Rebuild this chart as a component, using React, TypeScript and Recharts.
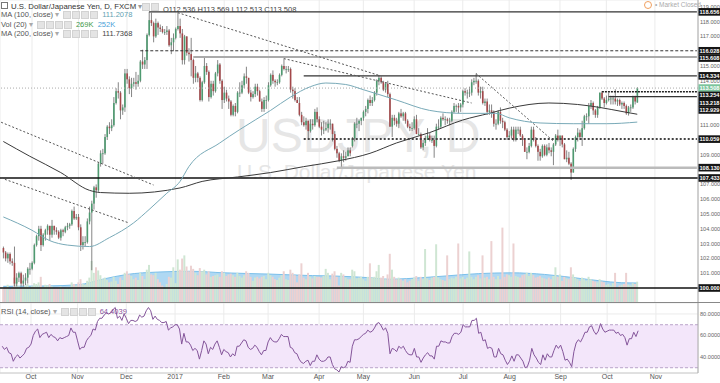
import React from "react"
import { ComposedChart, Bar, Line, Area, XAxis, YAxis, CartesianGrid, ReferenceLine, ReferenceArea, Cell } from "recharts"

// daily candles [open, high, low, close], one small list per month
const sep16 = [[102.7,102.8,102.0,102.4],[102.4,102.5,101.8,102.0],[102.0,102.4,101.7,102.3],[102.3,102.4,101.6,101.8],[101.8,102.0,101.5,101.7],[101.7,102.8,100.1,100.3],[100.3,101.0,100.1,100.7],[100.7,101.1,100.4,101.0],[101.0,101.1,100.1,100.3],[100.3,100.9,100.1,100.5],[100.5,101.0,100.2,100.7],[100.7,101.4,100.3,101.3],[101.3,101.7,100.9,101.3]]
const oct16 = [[101.3,101.8,101.2,101.7],[101.7,103.0,101.6,102.9],[102.9,103.6,102.8,103.5],[103.5,104.2,103.2,104.0],[104.0,104.2,102.5,102.9],[102.9,103.7,102.8,103.6],[103.6,104.0,103.2,103.9],[103.9,104.3,103.6,104.2],[104.2,104.2,103.2,103.6],[103.6,104.6,103.4,104.2],[104.2,104.2,103.6,103.9],[103.9,104.1,103.6,103.8],[103.8,103.9,103.3,103.4],[103.4,104.0,103.2,103.9],[103.9,104.0,103.5,103.8],[103.8,104.2,103.7,104.1],[104.1,104.4,103.9,104.2],[104.2,104.4,104.0,104.3],[104.3,105.3,104.2,105.2],[105.2,105.5,104.6,104.7],[104.7,105.0,104.6,104.8]]
const nov16 = [[104.8,105.0,103.9,104.1],[104.1,104.3,102.5,102.9],[102.9,103.5,102.6,103.1],[103.1,103.5,102.8,103.1],[103.1,104.7,103.0,104.5],[104.5,105.5,104.3,105.1],[105.1,105.9,101.2,105.7],[105.7,106.9,105.3,106.8],[106.8,107.0,106.1,106.6],[106.6,108.5,106.5,108.4],[108.4,109.3,108.2,109.1],[109.1,109.4,108.4,109.1],[109.1,110.4,109.0,110.2],[110.2,111.0,110.0,110.9],[110.9,111.2,110.4,110.8],[110.8,111.4,110.6,111.0],[111.0,112.9,110.9,112.5],[112.5,113.5,112.4,113.3],[113.3,113.9,112.8,113.2],[113.2,113.3,111.4,112.0],[112.0,112.4,111.7,112.2],[112.2,114.8,111.9,114.5]]
const dec16 = [[114.5,114.8,113.8,114.1],[114.1,114.3,113.1,113.5],[113.5,114.2,112.9,113.8],[113.8,114.2,113.6,113.9],[113.9,114.6,113.4,113.8],[113.8,114.4,113.6,114.0],[114.0,115.4,113.9,115.3],[115.3,116.1,114.8,115.1],[115.1,115.6,114.8,115.4],[115.4,117.2,114.8,117.1],[117.1,118.66,117.0,118.1],[118.1,118.6,117.7,117.9],[117.9,118.0,116.6,117.0],[117.0,118.2,116.9,117.9],[117.9,118.0,117.1,117.6],[117.6,117.8,117.3,117.5],[117.5,117.7,117.2,117.3],[117.3,117.5,117.1,117.3],[117.3,117.7,117.1,117.4],[117.4,117.5,116.3,116.4],[116.4,116.9,115.8,116.6],[116.6,117.2,116.0,116.9]]
const jan17 = [[116.9,117.6,116.8,117.5],[117.5,118.6,117.4,117.7],[117.7,118.2,116.9,117.2],[117.2,117.5,115.1,115.4],[115.4,117.1,115.1,117.0],[117.0,117.0,115.7,115.9],[115.9,116.2,115.3,115.8],[115.8,116.9,114.3,115.4],[115.4,115.5,113.8,114.2],[114.2,115.0,113.9,114.5],[114.5,114.6,113.9,114.2],[114.2,114.3,112.6,112.7],[112.7,114.0,112.6,113.9],[113.9,115.6,113.8,115.0],[115.0,115.2,114.4,114.6],[114.6,114.7,112.6,112.9],[112.9,114.0,112.8,113.8],[113.8,114.0,113.0,113.3],[113.3,114.6,113.2,114.5],[114.5,115.4,114.3,115.1],[115.1,115.2,113.8,114.0],[114.0,114.1,112.1,112.7]]
const feb17 = [[112.7,113.6,112.5,113.2],[113.2,113.4,112.6,112.8],[112.8,113.0,112.1,112.6],[112.6,112.7,111.6,111.7],[111.7,112.4,111.6,112.3],[112.3,112.5,111.6,111.9],[111.9,113.3,111.8,113.2],[113.2,113.9,112.9,113.2],[113.2,114.0,113.1,113.7],[113.7,114.5,113.5,114.3],[114.3,114.95,113.8,114.2],[114.2,114.2,113.1,113.2],[113.2,113.4,112.6,112.9],[112.9,113.3,112.8,113.1],[113.1,113.8,112.9,113.6],[113.6,113.8,113.0,113.3],[113.3,113.4,112.6,112.6],[112.6,112.8,111.9,112.1],[112.1,112.9,111.9,112.7],[112.7,113.0,112.1,112.7]]
const mar17 = [[112.7,113.9,112.6,113.7],[113.7,114.5,113.6,114.4],[114.4,114.7,113.8,114.0],[114.0,114.1,113.6,113.9],[113.9,114.1,113.7,113.9],[113.9,114.5,113.8,114.4],[114.4,115.1,114.3,115.0],[115.0,115.5,114.7,114.8],[114.8,115.0,114.5,114.8],[114.8,115.0,114.6,114.8],[114.8,114.9,113.2,113.4],[113.4,113.6,112.8,113.3],[113.3,113.5,112.6,112.7],[112.7,112.9,112.5,112.5],[112.5,112.9,111.6,111.7],[111.7,111.9,111.0,111.2],[111.2,111.6,110.9,111.0],[111.0,111.5,110.7,111.3],[111.3,111.3,110.1,110.6],[110.6,111.4,110.5,111.1],[111.1,111.4,110.7,111.0],[111.0,112.1,110.9,111.9],[111.9,112.2,111.2,111.4]]
const apr17 = [[111.4,111.6,110.8,110.9],[110.9,111.2,110.3,110.7],[110.7,111.3,110.4,110.7],[110.7,111.2,110.6,110.8],[110.8,111.4,110.5,111.1],[111.1,111.4,110.7,111.1],[111.1,111.1,109.9,110.4],[110.4,110.6,109.3,109.4],[109.4,109.6,108.8,109.1],[109.1,109.2,108.5,108.6],[108.6,109.1,108.13,108.9],[108.9,109.3,108.5,108.8],[108.8,109.2,108.6,108.9],[108.9,109.5,108.9,109.3],[109.3,109.5,108.9,109.1],[109.6,110.2,109.5,110.1],[110.1,111.2,109.9,111.1],[111.1,111.5,110.8,111.1],[111.1,111.4,110.6,111.3],[111.3,111.5,111.0,111.5]]
const may17 = [[111.5,112.0,111.3,111.9],[111.9,112.3,111.6,112.1],[112.1,112.8,111.8,112.7],[112.7,113.0,112.3,112.5],[112.5,112.9,112.3,112.7],[112.7,113.3,112.6,113.2],[113.2,114.1,113.0,114.0],[114.0,114.37,113.7,114.2],[114.2,114.3,113.8,113.9],[113.9,114.0,113.3,113.4],[113.4,113.9,113.2,113.8],[113.8,114.0,112.9,113.1],[113.1,113.2,110.9,110.9],[110.9,111.7,110.2,111.5],[111.5,111.7,111.0,111.3],[111.3,111.5,110.9,111.1],[111.1,111.9,110.8,111.8],[111.8,112.1,111.5,111.6],[111.6,111.9,111.3,111.8],[111.8,111.9,111.1,111.3],[111.3,111.4,110.8,110.9],[110.9,111.1,110.6,110.8],[110.8,111.2,110.6,110.8]]
const jun17 = [[110.8,111.6,110.7,111.4],[111.4,111.7,110.4,110.4],[110.4,110.8,110.3,110.4],[110.4,110.5,109.4,109.5],[109.5,110.0,109.3,109.8],[109.8,110.3,109.6,110.0],[110.0,110.8,110.0,110.3],[110.3,110.5,109.9,110.0],[110.0,110.3,109.8,110.0],[110.0,110.3,108.8,109.6],[109.6,111.1,109.5,110.9],[110.9,111.4,110.7,110.9],[110.9,111.6,110.8,111.5],[111.5,111.8,111.3,111.4],[111.4,111.6,111.0,111.4],[111.4,111.5,111.1,111.3],[111.3,111.5,111.0,111.3],[111.3,112.0,111.2,111.9],[111.9,112.5,111.8,112.3],[112.3,112.4,111.9,112.3],[112.3,112.5,111.8,112.2],[112.2,112.5,111.9,112.4]]
const jul17 = [[112.4,113.4,112.2,113.3],[113.3,113.5,113.0,113.2],[113.2,113.4,112.8,113.2],[113.2,113.6,112.9,113.2],[113.2,114.1,113.0,113.9],[113.9,114.2,113.7,114.0],[114.0,114.49,113.8,114.0],[114.0,114.1,113.0,113.2],[113.2,113.6,112.8,113.3],[113.3,113.6,112.4,112.5],[112.5,112.8,112.3,112.6],[112.6,112.8,111.7,111.9],[111.9,112.4,111.7,112.0],[112.0,112.4,111.5,111.9],[111.9,112.0,110.9,111.1],[111.1,111.4,110.7,111.1],[111.1,112.0,111.0,111.9],[111.9,112.2,111.1,111.3],[111.3,111.5,110.8,111.2],[111.2,111.3,110.6,110.7],[110.7,110.8,110.0,110.2]]
const aug17 = [[110.2,110.6,110.0,110.3],[110.3,110.9,110.1,110.7],[110.7,110.9,109.9,110.0],[110.0,110.9,109.9,110.7],[110.7,110.9,110.4,110.7],[110.7,110.9,110.2,110.3],[110.3,110.4,109.6,110.0],[110.0,110.1,109.2,109.2],[109.2,109.5,108.7,109.2],[109.2,109.8,109.1,109.6],[109.6,110.9,109.5,110.7],[110.7,110.9,109.9,110.0],[110.0,110.2,109.5,109.6],[109.6,109.7,108.6,109.2],[109.2,109.4,108.6,108.9],[108.9,109.7,108.8,109.6],[109.6,109.7,108.9,109.0],[109.0,109.7,108.9,109.5],[109.5,109.8,109.1,109.3],[109.3,109.5,108.9,109.2],[109.2,109.8,108.3,109.7],[109.7,110.4,109.6,110.3],[110.3,110.7,109.9,110.0]]
const sep17 = [[110.0,110.3,109.6,110.3],[110.3,110.3,109.5,109.7],[109.7,109.8,108.7,108.7],[108.7,109.3,108.5,108.8],[108.8,109.2,108.3,108.4],[108.4,108.5,107.3,107.8],[107.8,109.5,107.8,109.4],[109.4,110.3,109.2,110.2],[110.2,110.8,109.9,110.5],[110.5,110.7,110.0,110.2],[110.2,111.3,109.6,110.8],[110.8,111.7,110.7,111.6],[111.6,111.8,111.3,111.6],[111.6,112.5,111.1,112.3],[112.3,112.7,112.1,112.5],[112.5,112.6,111.7,112.0],[112.0,112.1,111.5,111.7],[111.7,112.3,111.5,112.2],[112.2,113.2,112.1,113.2],[113.2,113.3,112.7,112.8],[112.8,112.9,112.2,112.5]]
const oct17 = [[112.5,113.0,112.4,112.7],[112.7,113.2,112.6,112.8],[112.8,113.0,112.4,112.8],[112.8,113.0,112.4,112.8],[112.8,113.43,112.4,112.6],[112.6,112.8,112.3,112.7],[112.7,112.8,112.3,112.4],[112.4,112.6,112.1,112.5],[112.5,112.6,112.1,112.3],[112.3,112.4,111.7,111.8],[111.8,112.3,111.65,112.2],[112.2,112.4,111.9,112.2],[112.2,113.0,112.1,112.9],[112.9,113.0,112.4,112.6],[112.536,113.569,112.513,113.508]]

// tick volume, thousands
const volumes = [
  180,200,230,170,190,320,260,210,190,200,220,240,200,
  210,250,240,260,330,200,230,220,240,210,180,190,200,210,190,180,200,190,260,240,220,
  260,300,240,230,280,320,530,380,450,410,350,300,320,290,260,270,330,280,240,320,290,380,
  400,360,340,300,320,290,380,340,300,420,480,360,350,380,300,260,220,180,240,330,320,450,
  250,550,420,560,600,460,400,470,430,380,350,440,400,420,360,400,330,340,350,360,330,400,
  380,340,360,370,350,330,380,340,320,350,400,380,330,280,320,330,310,330,340,300,
  380,350,330,300,290,320,350,400,300,290,420,380,350,260,360,500,320,300,380,330,310,340,330,
  330,320,340,430,380,300,370,400,330,220,380,360,320,300,300,420,400,310,320,330,
  300,280,330,500,320,330,400,480,320,340,300,360,620,420,330,300,320,300,280,300,260,280,300,
  320,340,280,330,300,680,310,290,320,330,740,320,300,290,280,600,300,320,310,330,750,310,
  330,300,320,650,330,300,330,350,310,600,320,330,300,780,330,300,340,300,950,330,360,
  350,330,750,340,330,320,350,360,380,340,380,350,320,330,340,320,310,300,320,300,340,450,330,
  360,280,330,310,300,450,360,320,300,280,320,300,280,330,300,280,270,260,300,270,260,
  230,240,220,250,380,200,220,230,240,380,230,220,250,240,269,
]

const rsi = [
  50,47,49,44,43,36,40,42,39,41,43,48,49,
  52,60,64,66,58,61,62,63,58,61,59,58,55,58,57,58,59,60,67,63,63,
  55,47,49,49,55,58,60,66,65,73,76,76,79,81,80,81,84,86,76,78,74,80,
  76,71,74,74,73,74,79,77,78,83,86,83,75,78,75,74,72,72,73,65,67,68,
  70,70,66,52,62,54,54,51,46,48,46,38,46,55,52,43,49,47,52,55,49,42,
  47,45,44,40,43,41,50,50,53,56,55,49,47,48,51,49,45,42,46,46,
  54,58,55,54,54,57,61,59,59,59,49,48,44,43,38,35,34,36,37,32,36,36,42,
  38,36,36,37,40,40,33,29,28,26,31,30,31,36,35,50,56,56,57,59,
  61,62,65,63,64,67,71,72,69,65,67,62,43,48,47,45,50,48,50,46,43,42,42,
  48,40,40,35,39,42,44,41,41,38,50,50,55,54,54,53,53,59,62,62,61,63,
  70,68,68,68,74,74,76,62,63,55,56,48,49,48,40,40,48,43,42,37,33,
  36,41,36,42,42,39,36,30,31,37,48,42,39,35,33,42,37,43,40,40,46,51,48,
  51,45,37,38,35,31,45,53,56,54,58,63,63,68,69,64,61,64,71,66,63,
  64,65,65,65,62,63,60,61,58,51,57,57,63,59,64.4,
]

// moving averages, [bar index, value]
const ma100Pts = [[0,104.8],[13,103.9],[21,103.2],[29,102.9],[39,102.8],[48,103.4],[59,104.4],[66,105.3],[74,106.4],[80,107.2],[84,108.2],[98,109.8],[107,110.7],[121,112.0],[130,112.9],[139,113.6],[146,113.85],[155,113.75],[163,113.4],[178,112.7],[193,112.0],[208,111.8],[223,111.8],[229,111.5],[243,111.15],[258,111.1],[273,111.1],[287,111.21]]
const ma200Pts = [[0,109.9],[12,108.9],[26,107.8],[39,106.6],[44,106.45],[57,106.4],[80,106.76],[90,107.2],[106,107.5],[121,107.8],[136,108.2],[152,108.6],[166,109.1],[178,109.8],[193,110.5],[208,111.35],[220,111.8],[229,112.15],[247,112.5],[260,112.4],[270,112.2],[281,111.9],[287,111.74]]
const volMaPts = [[0,210],[20,215],[34,230],[45,300],[56,360],[70,390],[85,400],[100,380],[120,365],[140,345],[150,340],[165,320],[175,300],[190,320],[200,340],[215,370],[230,380],[245,360],[258,320],[270,280],[280,255],[287,252]]

const monthStarts = [13,34,56,78,100,120,143,163,186,208,229,252,273,295]
const monthLabels = ["Oct","Nov","Dec","2017","Feb","Mar","Apr","May","Jun","Jul","Aug","Sep","Oct","Nov"]

const priceTicks = [101,102,103,104,105,106,107,109,111,114,115,117,118,119]
const levelBoxes = [118.656,116.028,115.608,114.334,113.508,113.254,113.218,112.929,110.059,108.13,107.433,100]
const lastClose = 113.508

const LEAD = 1
const SLOTS = 316
const MAIN_H = 303
const P_MIN = 98.986
const P_MAX = 119.459
const VOL_MAX = 3818
const AXIS_FONT = 5.6

const ohlc = [...sep16, ...oct16, ...nov16, ...dec16, ...jan17, ...feb17, ...mar17, ...apr17, ...may17, ...jun17, ...jul17, ...aug17, ...sep17, ...oct17]

const rows: any[] = Array.from({ length: SLOTS }, (_, k) => {
  const d = ohlc[k - LEAD]
  return {
    slot: k,
    o: d ? d[0] : null, h: d ? d[1] : null, l: d ? d[2] : null, c: d ? d[3] : null,
    range: d ? [d[2], d[1]] : null,
    up: d ? d[3] >= d[0] : true,
    vol: volumes[k - LEAD] ?? null,
    rsi: rsi[k - LEAD] ?? null,
    ma100: null, ma200: null, volMa: null,
  }
})
ma100Pts.forEach(([i, v]) => (rows[i + LEAD].ma100 = v))
ma200Pts.forEach(([i, v]) => (rows[i + LEAD].ma200 = v))
volMaPts.forEach(([i, v]) => (rows[i + LEAD].volMa = v))

const monthSlots = monthStarts.map((i) => i + LEAD)
const lastSlot = SLOTS - 1
const at = (i: number) => i + LEAD

// axis price boxes get pushed down when they would overlap (like the platform does)
const boxShift = new Map<number, number>()
{
  let prev = -99
  levelBoxes.forEach((v) => {
    const ny = ((P_MAX - v) / (P_MAX - P_MIN)) * MAIN_H
    const y = Math.max(ny, prev + 7.3)
    boxShift.set(v, y - ny)
    prev = y
  })
}

const Candle = (props: any) => {
  const { x, y, width, height, payload } = props
  if (payload.o == null) return null
  const { o, h, l, c } = payload
  const ppu = h > l ? height / (h - l) : 0
  const cx = x + width / 2
  const top = y + (h - Math.max(o, c)) * ppu
  const bot = y + (h - Math.min(o, c)) * ppu
  const col = c >= o ? "#4e9a70" : "#a4484a"
  return (
    <g>
      <line x1={cx} x2={cx} y1={y} y2={y + height} stroke="#666" strokeWidth={0.8} />
      <rect x={cx - 0.8} y={top} width={1.6} height={Math.max(0.8, bot - top)} fill={col} />
    </g>
  )
}

const PriceTick = (props: any) => {
  const { x, y, payload } = props
  const v = payload.value
  if (boxShift.has(v)) {
    const yy = y + (boxShift.get(v) as number)
    const bg = v === lastClose ? "#7cc49c" : "#151515"
    return (
      <g>
        <rect x={x + 0.5} y={yy - 3.8} width={22} height={7.6} fill={bg} />
        <text x={x + 1.5} y={yy + 2} fontSize={AXIS_FONT} fontWeight={700} fill="#fff">{v.toFixed(3)}</text>
      </g>
    )
  }
  return <text x={x + 2} y={y + 2} fontSize={AXIS_FONT} fill="#666">{v.toFixed(3)}</text>
}

const iconRow = (n: number) => (
  <span style={{ display: "inline-flex", gap: 1, margin: "0 4px", verticalAlign: "middle" }}>
    {Array.from({ length: n }, (_, k) => (
      <span key={k} style={{ width: 6, height: 6, background: "#e4e4e4", border: "1px solid #d2d2d2", display: "inline-block" }} />
    ))}
  </span>
)

const legendRow: React.CSSProperties = { position: "absolute", left: 1, whiteSpace: "nowrap", fontSize: 7.5, color: "#555", lineHeight: "9px" }

export default function App() {
  return (
    <div style={{ position: "absolute", left: 0, top: 0, width: 720, height: 383, background: "#fff", overflow: "hidden", fontFamily: '"Liberation Sans", Arial, sans-serif' }}>
      {/* grid + volume layer */}
      <div style={{ position: "absolute", left: 0, top: 0 }}>
        <ComposedChart width={720} height={MAIN_H} data={rows} margin={{ top: 0, right: 22, bottom: 0, left: 0 }} barCategoryGap={0}>
          <XAxis dataKey="slot" hide ticks={monthSlots} interval={0} />
          <YAxis yAxisId="grid" hide domain={[P_MIN, P_MAX]} ticks={[99,100,101,102,103,104,105,106,107,108,109,110,111,112,113,114,115,116,117,118,119]} />
          <YAxis yAxisId="vol" hide domain={[0, VOL_MAX]} />
          <CartesianGrid yAxisId="grid" stroke="#ebebeb" />
          <Bar yAxisId="vol" dataKey="vol" isAnimationActive={false} barSize={2}>
            {rows.map((r) => (
              <Cell key={r.slot} fill={r.up ? "#cfe6d3" : "#ecd1d1"} />
            ))}
          </Bar>
          <Area yAxisId="vol" dataKey="volMa" type="monotone" connectNulls stroke="#7cc0ea" strokeWidth={1} fill="#5fb2e8" fillOpacity={0.5} isAnimationActive={false} dot={false} />
        </ComposedChart>
      </div>

      {/* watermark */}
      <div style={{ position: "absolute", left: 236, top: 108, fontSize: 48, color: "#e6e6e6", whiteSpace: "nowrap" }}>USDJPY, D</div>
      <div style={{ position: "absolute", left: 237, top: 160, fontSize: 21, color: "#e6e6e6", whiteSpace: "nowrap" }}>U.S. Dollar/Japanese Yen</div>

      {/* price layer */}
      <div style={{ position: "absolute", left: 0, top: 0 }}>
        <ComposedChart width={720} height={MAIN_H} data={rows} margin={{ top: 0, right: 0, bottom: 0, left: 0 }}>
          <XAxis dataKey="slot" hide />
          <YAxis yAxisId="price" orientation="right" width={22} domain={[P_MIN, P_MAX]} allowDataOverflow ticks={[...priceTicks, ...levelBoxes]} interval={0} tick={<PriceTick />} tickLine={false} tickSize={0} tickMargin={0} axisLine={{ stroke: "#aaa" }} />
          <ReferenceLine yAxisId="price" y={lastClose} stroke="#aaa" strokeDasharray="1 2" />
          <ReferenceLine yAxisId="price" y={107.433} stroke="#111" strokeWidth={1.6} />
          <ReferenceLine yAxisId="price" y={100} stroke="#111" strokeWidth={1.6} />
          <ReferenceLine yAxisId="price" segment={[{ x: at(66), y: 118.656 }, { x: lastSlot, y: 118.656 }]} stroke="#333" strokeWidth={1.2} />
          <ReferenceLine yAxisId="price" segment={[{ x: at(62), y: 116.028 }, { x: lastSlot, y: 116.028 }]} stroke="#333" strokeDasharray="3 2" />
          <ReferenceLine yAxisId="price" segment={[{ x: at(86), y: 115.608 }, { x: lastSlot, y: 115.608 }]} stroke="#aaa" strokeWidth={2} />
          <ReferenceLine yAxisId="price" segment={[{ x: at(136), y: 114.334 }, { x: lastSlot, y: 114.334 }]} stroke="#333" strokeWidth={1.2} />
          <ReferenceLine yAxisId="price" segment={[{ x: at(271), y: 113.254 }, { x: lastSlot, y: 113.254 }]} stroke="#222" strokeWidth={1.5} strokeDasharray="2 1" />
          <ReferenceLine yAxisId="price" segment={[{ x: at(274), y: 112.929 }, { x: lastSlot, y: 112.929 }]} stroke="#333" strokeWidth={1.2} />
          <ReferenceLine yAxisId="price" segment={[{ x: at(136), y: 110.059 }, { x: lastSlot, y: 110.059 }]} stroke="#444" strokeWidth={2} strokeDasharray="2 2" />
          <ReferenceLine yAxisId="price" segment={[{ x: at(151), y: 108.13 }, { x: lastSlot, y: 108.13 }]} stroke="#bbb" strokeWidth={2.5} />
          <ReferenceLine yAxisId="price" segment={[{ x: at(79), y: 118.6 }, { x: at(170), y: 114.37 }]} stroke="#555" strokeDasharray="2 2" />
          <ReferenceLine yAxisId="price" segment={[{ x: at(127), y: 115.5 }, { x: at(212), y: 112.5 }]} stroke="#555" strokeDasharray="2 2" />
          <ReferenceLine yAxisId="price" segment={[{ x: at(214), y: 114.49 }, { x: at(249), y: 109.93 }]} stroke="#555" strokeDasharray="2 2" />
          <ReferenceLine yAxisId="price" segment={[{ x: 0, y: 111.2 }, { x: at(68), y: 106.96 }]} stroke="#555" strokeDasharray="2 2" />
          <ReferenceLine yAxisId="price" segment={[{ x: 0, y: 107.43 }, { x: at(57), y: 104.39 }]} stroke="#555" strokeDasharray="2 2" />
          <Line yAxisId="price" dataKey="ma200" type="monotone" connectNulls stroke="#3a3a3a" strokeWidth={1} dot={false} isAnimationActive={false} />
          <Line yAxisId="price" dataKey="ma100" type="monotone" connectNulls stroke="#79aab8" strokeWidth={1} dot={false} isAnimationActive={false} />
          <Bar yAxisId="price" dataKey="range" shape={<Candle />} isAnimationActive={false} />
        </ComposedChart>
      </div>

      {/* legend */}
      <div style={{ ...legendRow, top: 1.5, fontSize: 7.8, color: "#333" }}>
        <span style={{ display: "inline-block", width: 5, height: 5, border: "1px solid #777", marginRight: 3 }} />
        U.S. Dollar/Japanese Yen, D, FXCM <span style={{ color: "#999" }}>▾</span>
      </div>
      <div style={{ position: "absolute", left: 138, top: 1.5, whiteSpace: "nowrap", lineHeight: "9px" }}>
        {iconRow(2)}
        <span style={{ fontSize: 7.5, color: "#444" }}>O112.536 H113.569 L112.513 C113.508</span>
      </div>
      <div style={{ ...legendRow, top: 10 }}>MA (100, close) <span style={{ color: "#aaa" }}>▾</span>{iconRow(4)}<span style={{ color: "#5f9fb2" }}>111.2078</span></div>
      <div style={{ ...legendRow, top: 19.5 }}>Vol (20) <span style={{ color: "#aaa" }}>▾</span>{iconRow(4)}<span style={{ color: "#3f9a4a" }}>269K</span>&nbsp;&nbsp;<span style={{ color: "#4a9fd8" }}>252K</span></div>
      <div style={{ ...legendRow, top: 29 }}>MA (200, close) <span style={{ color: "#aaa" }}>▾</span>{iconRow(4)}<span style={{ color: "#444" }}>111.7368</span></div>
      <div style={{ position: "absolute", left: 644, top: 1, fontSize: 6.5, color: "#aaa", whiteSpace: "nowrap" }}>
        <span style={{ display: "inline-block", width: 6, height: 6, borderRadius: 4, border: "1px solid #f0a060", marginRight: 3, verticalAlign: "middle" }} />• Market Closed
      </div>

      <div style={{ position: "absolute", left: 0, top: 302, width: 720, height: 1, background: "#888" }} />

      {/* RSI pane */}
      <div style={{ position: "absolute", left: 0, top: 303 }}>
        <ComposedChart width={720} height={80} data={rows} margin={{ top: 0, right: 0, bottom: 0, left: 0 }}>
          <XAxis dataKey="slot" ticks={monthSlots} interval={0} height={10} tickSize={0} tickMargin={1} tickLine={false} axisLine={{ stroke: "#ccc" }}
            tickFormatter={(v: number) => monthLabels[monthSlots.indexOf(v)] ?? ""} tick={{ fontSize: 7, fill: "#555" }} />
          <YAxis orientation="right" width={22} domain={[25.1, 90.2]} ticks={[40, 60, 80]} interval={0} tickLine={false} tickSize={0} tickMargin={2} axisLine={{ stroke: "#aaa" }}
            tickFormatter={(v: number) => v.toFixed(4)} tick={{ fontSize: AXIS_FONT, fill: "#666", textAnchor: "start" }} />
          <ReferenceArea y1={30} y2={70} fill="#f3e6fa" fillOpacity={1} stroke="none" />
          <CartesianGrid stroke="#ebebeb" />
          <ReferenceLine y={70} stroke="#b9a3c9" strokeDasharray="3 2" />
          <ReferenceLine y={30} stroke="#b9a3c9" strokeDasharray="3 2" />
          <Line dataKey="rsi" type="linear" stroke="#84559a" strokeWidth={1} dot={false} isAnimationActive={false} />
        </ComposedChart>
      </div>
      <div style={{ ...legendRow, top: 307 }}>RSI (14, close) <span style={{ color: "#aaa" }}>▾</span>{iconRow(4)}<span style={{ color: "#8a55a0" }}>64.4039</span></div>
    </div>
  )
}
